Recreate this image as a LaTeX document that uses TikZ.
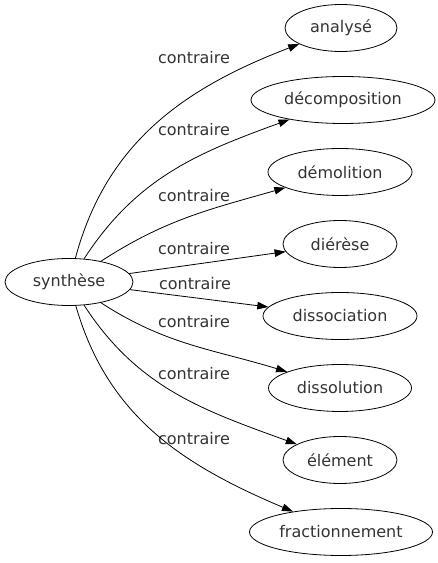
\documentclass[tikz,border=0pt]{standalone}
\usepackage{fontspec}
\setmainfont{DejaVu Sans}
\usetikzlibrary{shapes, arrows.meta, positioning}

\begin{document}
\begin{tikzpicture}[x=1pt, y=1pt,
    mot/.style={ellipse, draw, line width=0.8pt, minimum height=47pt, inner sep=0pt, text=black!80, font=\fontsize{16}{19}\selectfont},
    rel/.style={text=black!80, inner sep=0pt, font=\fontsize{16}{19}\selectfont},
    fleche/.style={line width=0.8pt, -{Triangle[length=11pt, width=7.5pt]}}]
    \useasboundingbox (0,0) rectangle (438,563);
    \node[mot, minimum width=128pt] (synthese) at (69,281) {synthèse};
    \node[mot, minimum width=112pt] (analyse) at (341,535) {analysé};
    \node[mot, minimum width=184pt] (decomposition) at (343,463) {décomposition};
    \node[mot, minimum width=144pt] (demolition) at (340,391) {démolition};
    \node[mot, minimum width=114pt] (dierese) at (340,319) {diérèse};
    \node[mot, minimum width=154pt] (dissociation) at (340,247) {dissociation};
    \node[mot, minimum width=143pt] (dissolution) at (340,175) {dissolution};
    \node[mot, minimum width=114pt] (element) at (340,103) {élément};
    \node[mot, minimum width=183pt] (fractionnement) at (341,31) {fractionnement};
    \node[rel] (c1) at (194,505) {contraire};
    \node[rel] (c2) at (194,433) {contraire};
    \node[rel] (c3) at (194,367) {contraire};
    \node[rel] (c4) at (194,314) {contraire};
    \node[rel] (c5) at (195,279) {contraire};
    \node[rel] (c6) at (194,241) {contraire};
    \node[rel] (c7) at (194,189) {contraire};
    \node[rel] (c8) at (194,124) {contraire};
    \draw[fleche] (synthese) to[out=75, in=201] (analyse);
    \draw[fleche] (synthese) to[out=57, in=200] (decomposition);
    \draw[fleche] (synthese) to[out=33, in=196] (demolition);
    \draw[fleche] (synthese) -- (dierese);
    \draw[fleche] (synthese) -- (dissociation);
    \draw[fleche] (synthese) to[out=-33, in=163] (dissolution);
    \draw[fleche] (synthese) to[out=-57, in=160] (element);
    \draw[fleche] (synthese) to[out=-74, in=157] (fractionnement);
\end{tikzpicture}
\end{document}
